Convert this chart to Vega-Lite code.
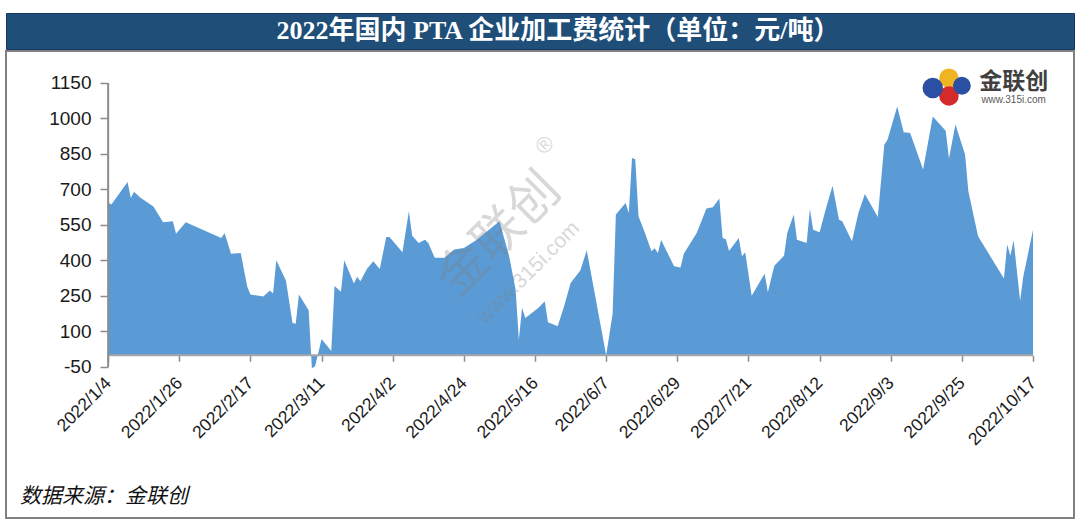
{
  "$schema": "https://vega.github.io/schema/vega-lite/v6.json",
  "padding": {"left": 5, "top": 12, "right": 2, "bottom": 2},
  "background": "white",
  "spacing": 0,
  "config": {"view": {"stroke": null}, "concat": {"spacing": 0}},
  "vconcat": [
    {
      "width": 1068,
      "height": 36,
      "view": {"fill": "#1F4E79", "stroke": "#17375e", "strokeWidth": 1},
      "data": {"values": [{"t": "2022年国内 PTA 企业加工费统计（单位：元/吨）"}]},
      "mark": {"type": "text", "color": "white", "fontSize": 26, "font": "Liberation Serif, Noto Sans CJK SC", "fontWeight": "bold", "baseline": "middle", "align": "center", "dx": 18},
      "encoding": {"text": {"field": "t"}}
    },
    {
      "width": 1068,
      "height": 467,
      "view": {"fill": "white", "stroke": "#808080", "strokeWidth": 2},
      "title": {"text": "数据来源：金联创", "orient": "bottom", "anchor": "start", "frame": "group", "offset": -21, "dx": 14, "baseline": "middle", "fontSize": 21, "fontStyle": "italic", "fontWeight": "normal", "font": "Noto Sans CJK SC", "color": "#111111"},
      "data": {"values": [
        {"date": "2022/01/04", "v": 645}, {"date": "2022/01/05", "v": 636}, {"date": "2022/01/10", "v": 732},
        {"date": "2022/01/11", "v": 664}, {"date": "2022/01/12", "v": 690}, {"date": "2022/01/14", "v": 665},
        {"date": "2022/01/18", "v": 628}, {"date": "2022/01/21", "v": 561}, {"date": "2022/01/24", "v": 566},
        {"date": "2022/01/25", "v": 513}, {"date": "2022/01/28", "v": 561}, {"date": "2022/02/08", "v": 495},
        {"date": "2022/02/09", "v": 516}, {"date": "2022/02/11", "v": 428}, {"date": "2022/02/14", "v": 432},
        {"date": "2022/02/16", "v": 290}, {"date": "2022/02/17", "v": 256}, {"date": "2022/02/21", "v": 248},
        {"date": "2022/02/23", "v": 273}, {"date": "2022/02/24", "v": 260}, {"date": "2022/02/25", "v": 401},
        {"date": "2022/02/28", "v": 314}, {"date": "2022/03/02", "v": 136}, {"date": "2022/03/03", "v": 133},
        {"date": "2022/03/04", "v": 256}, {"date": "2022/03/07", "v": 190}, {"date": "2022/03/08", "v": -55},
        {"date": "2022/03/09", "v": -47}, {"date": "2022/03/11", "v": 68}, {"date": "2022/03/14", "v": 18},
        {"date": "2022/03/15", "v": 292}, {"date": "2022/03/17", "v": 268}, {"date": "2022/03/18", "v": 401},
        {"date": "2022/03/21", "v": 303}, {"date": "2022/03/22", "v": 331}, {"date": "2022/03/23", "v": 312},
        {"date": "2022/03/25", "v": 364}, {"date": "2022/03/27", "v": 397}, {"date": "2022/03/29", "v": 364},
        {"date": "2022/03/31", "v": 499}, {"date": "2022/04/01", "v": 499}, {"date": "2022/04/05", "v": 435},
        {"date": "2022/04/07", "v": 608}, {"date": "2022/04/08", "v": 505}, {"date": "2022/04/10", "v": 474},
        {"date": "2022/04/12", "v": 488}, {"date": "2022/04/13", "v": 474}, {"date": "2022/04/15", "v": 411},
        {"date": "2022/04/18", "v": 411}, {"date": "2022/04/21", "v": 446}, {"date": "2022/04/24", "v": 453},
        {"date": "2022/04/28", "v": 488}, {"date": "2022/05/05", "v": 566}, {"date": "2022/05/08", "v": 418},
        {"date": "2022/05/10", "v": 277}, {"date": "2022/05/11", "v": 65}, {"date": "2022/05/12", "v": 200},
        {"date": "2022/05/13", "v": 157}, {"date": "2022/05/17", "v": 199}, {"date": "2022/05/19", "v": 228},
        {"date": "2022/05/20", "v": 139}, {"date": "2022/05/23", "v": 122}, {"date": "2022/05/25", "v": 207},
        {"date": "2022/05/27", "v": 305}, {"date": "2022/05/30", "v": 358}, {"date": "2022/06/01", "v": 443},
        {"date": "2022/06/07", "v": 0}, {"date": "2022/06/09", "v": 175}, {"date": "2022/06/10", "v": 594},
        {"date": "2022/06/13", "v": 643}, {"date": "2022/06/14", "v": 601}, {"date": "2022/06/15", "v": 833},
        {"date": "2022/06/16", "v": 828}, {"date": "2022/06/17", "v": 587}, {"date": "2022/06/19", "v": 516},
        {"date": "2022/06/21", "v": 439}, {"date": "2022/06/22", "v": 452}, {"date": "2022/06/23", "v": 432},
        {"date": "2022/06/24", "v": 487}, {"date": "2022/06/28", "v": 376}, {"date": "2022/06/30", "v": 370},
        {"date": "2022/07/01", "v": 428}, {"date": "2022/07/05", "v": 516}, {"date": "2022/07/08", "v": 620},
        {"date": "2022/07/10", "v": 625}, {"date": "2022/07/12", "v": 662}, {"date": "2022/07/13", "v": 495},
        {"date": "2022/07/14", "v": 490}, {"date": "2022/07/15", "v": 440}, {"date": "2022/07/18", "v": 495},
        {"date": "2022/07/19", "v": 418}, {"date": "2022/07/20", "v": 435}, {"date": "2022/07/22", "v": 251},
        {"date": "2022/07/26", "v": 344}, {"date": "2022/07/27", "v": 266}, {"date": "2022/07/29", "v": 378},
        {"date": "2022/08/01", "v": 420}, {"date": "2022/08/02", "v": 516}, {"date": "2022/08/04", "v": 594},
        {"date": "2022/08/05", "v": 488}, {"date": "2022/08/08", "v": 474}, {"date": "2022/08/09", "v": 618},
        {"date": "2022/08/10", "v": 530}, {"date": "2022/08/12", "v": 519}, {"date": "2022/08/14", "v": 622},
        {"date": "2022/08/16", "v": 716}, {"date": "2022/08/18", "v": 572}, {"date": "2022/08/19", "v": 566},
        {"date": "2022/08/22", "v": 481}, {"date": "2022/08/24", "v": 601}, {"date": "2022/08/26", "v": 681},
        {"date": "2022/08/30", "v": 584}, {"date": "2022/09/01", "v": 889}, {"date": "2022/09/02", "v": 910},
        {"date": "2022/09/05", "v": 1050}, {"date": "2022/09/07", "v": 942}, {"date": "2022/09/09", "v": 939},
        {"date": "2022/09/13", "v": 784}, {"date": "2022/09/16", "v": 1008}, {"date": "2022/09/20", "v": 948},
        {"date": "2022/09/21", "v": 831}, {"date": "2022/09/23", "v": 974}, {"date": "2022/09/26", "v": 847},
        {"date": "2022/09/27", "v": 692}, {"date": "2022/09/30", "v": 502}, {"date": "2022/10/08", "v": 324},
        {"date": "2022/10/09", "v": 467}, {"date": "2022/10/10", "v": 420}, {"date": "2022/10/11", "v": 485},
        {"date": "2022/10/13", "v": 230}, {"date": "2022/10/14", "v": 333}, {"date": "2022/10/17", "v": 530}
      ]},
      "layer": [
        {
          "mark": {"type": "area", "color": "#5B9BD5", "interpolate": "linear"},
          "encoding": {
            "x": {
              "field": "date", "type": "temporal",
              "scale": {"domain": [{"year": 2021, "month": 12, "date": 3, "hours": 10}, {"year": 2022, "month": 10, "date": 29, "hours": 16}]},
              "axis": {
                "title": null, "grid": false, "domain": false, "offset": -162.8,
                "values": [
                  {"year": 2022, "month": 1, "date": 4}, {"year": 2022, "month": 1, "date": 26}, {"year": 2022, "month": 2, "date": 17},
                  {"year": 2022, "month": 3, "date": 11}, {"year": 2022, "month": 4, "date": 2}, {"year": 2022, "month": 4, "date": 24},
                  {"year": 2022, "month": 5, "date": 16}, {"year": 2022, "month": 6, "date": 7}, {"year": 2022, "month": 6, "date": 29},
                  {"year": 2022, "month": 7, "date": 21}, {"year": 2022, "month": 8, "date": 12}, {"year": 2022, "month": 9, "date": 3},
                  {"year": 2022, "month": 9, "date": 25}, {"year": 2022, "month": 10, "date": 17}
                ],
                "format": "%Y/%-m/%-d", "labelAngle": -45, "labelAlign": "right", "labelBaseline": "middle",
                "labelPadding": 19, "labelFontSize": 17.5, "labelFont": "Liberation Sans", "labelColor": "#1a1a1a",
                "labelOverlap": false, "labelBound": false, "labelFlush": false,
                "tickSize": 6, "tickColor": "#8c8c8c", "tickWidth": 1.5
              }
            },
            "y": {
              "field": "v", "type": "quantitative",
              "scale": {"domain": [-688, 1285], "nice": false, "zero": false},
              "axis": {
                "title": null, "grid": false, "domain": false, "offset": -102,
                "values": [-50, 100, 250, 400, 550, 700, 850, 1000, 1150],
                "labelExpr": "'' + datum.value",
                "labelFontSize": 19, "labelFont": "Liberation Sans", "labelColor": "#1a1a1a", "labelPadding": 9,
                "tickSize": 8, "tickColor": "#8c8c8c", "tickWidth": 1.5, "labelFlush": false, "labelOverlap": false
              }
            },
            "y2": {"datum": 0}
          }
        },
        {
          "data": {"values": [{}]},
          "mark": {"type": "rule", "color": "#a6a6a6", "strokeWidth": 2},
          "encoding": {
            "x": {"datum": {"year": 2022, "month": 1, "date": 4}, "type": "temporal"},
            "x2": {"datum": {"year": 2022, "month": 10, "date": 17}},
            "y": {"datum": 0, "type": "quantitative"}
          }
        },
        {
          "data": {"values": [{}]},
          "mark": {"type": "rule", "color": "#8c8c8c", "strokeWidth": 2},
          "encoding": {
            "x": {"datum": {"year": 2022, "month": 1, "date": 4}, "type": "temporal"},
            "y": {"datum": -50, "type": "quantitative"},
            "y2": {"datum": 1150}
          }
        },
        {
          "data": {"values": [{"t": "金联创"}]},
          "mark": {"type": "text", "angle": -45, "fontSize": 50, "font": "Noto Sans CJK SC", "color": "#7f7f7f", "opacity": 0.3, "align": "center", "baseline": "middle"},
          "encoding": {
            "x": {"datum": {"year": 2022, "month": 5, "date": 5}, "type": "temporal"},
            "y": {"datum": 508, "type": "quantitative"},
            "text": {"field": "t"}
          }
        },
        {
          "data": {"values": [{"t": "www.315i.com"}]},
          "mark": {"type": "text", "angle": -45, "fontSize": 21, "font": "Liberation Sans", "color": "#7f7f7f", "opacity": 0.3, "align": "center", "baseline": "middle"},
          "encoding": {
            "x": {"datum": {"year": 2022, "month": 5, "date": 14}, "type": "temporal"},
            "y": {"datum": 347, "type": "quantitative"},
            "text": {"field": "t"}
          }
        },
        {
          "data": {"values": [{"t": "®"}]},
          "mark": {"type": "text", "angle": -45, "fontSize": 22, "font": "Liberation Sans", "color": "#7f7f7f", "opacity": 0.3, "align": "center", "baseline": "middle"},
          "encoding": {
            "x": {"datum": {"year": 2022, "month": 5, "date": 19}, "type": "temporal"},
            "y": {"datum": 888, "type": "quantitative"},
            "text": {"field": "t"}
          }
        },
        {
          "data": {"values": [{}]},
          "mark": {"type": "point", "shape": "circle", "filled": true, "color": "#f0b323", "size": 380, "opacity": 1},
          "encoding": {
            "x": {"datum": {"year": 2022, "month": 9, "date": 21}, "type": "temporal"},
            "y": {"datum": 1170, "type": "quantitative"}
          }
        },
        {
          "data": {"values": [{}]},
          "mark": {"type": "point", "shape": "circle", "filled": true, "color": "#d42a2a", "size": 380, "opacity": 1},
          "encoding": {
            "x": {"datum": {"year": 2022, "month": 9, "date": 21}, "type": "temporal"},
            "y": {"datum": 1095, "type": "quantitative"}
          }
        },
        {
          "data": {"values": [{}]},
          "mark": {"type": "point", "shape": "circle", "filled": true, "color": "#2b4fa3", "size": 420, "opacity": 1},
          "encoding": {
            "x": {"datum": {"year": 2022, "month": 9, "date": 16}, "type": "temporal"},
            "y": {"datum": 1129, "type": "quantitative"}
          }
        },
        {
          "data": {"values": [{}]},
          "mark": {"type": "point", "shape": "circle", "filled": true, "color": "#2b4fa3", "size": 320, "opacity": 1},
          "encoding": {
            "x": {"datum": {"year": 2022, "month": 9, "date": 25}, "type": "temporal"},
            "y": {"datum": 1138, "type": "quantitative"}
          }
        },
        {
          "data": {"values": [{"t": "金联创"}]},
          "mark": {"type": "text", "fontSize": 23, "font": "Noto Sans CJK SC", "fontWeight": "bold", "color": "#404040", "align": "center", "baseline": "middle"},
          "encoding": {
            "x": {"datum": {"year": 2022, "month": 10, "date": 11}, "type": "temporal"},
            "y": {"datum": 1154, "type": "quantitative"},
            "text": {"field": "t"}
          }
        },
        {
          "data": {"values": [{"t": "www.315i.com"}]},
          "mark": {"type": "text", "fontSize": 10, "font": "Liberation Sans", "color": "#595959", "align": "center", "baseline": "middle"},
          "encoding": {
            "x": {"datum": {"year": 2022, "month": 10, "date": 11}, "type": "temporal"},
            "y": {"datum": 1076, "type": "quantitative"},
            "text": {"field": "t"}
          }
        }
      ]
    }
  ]
}
